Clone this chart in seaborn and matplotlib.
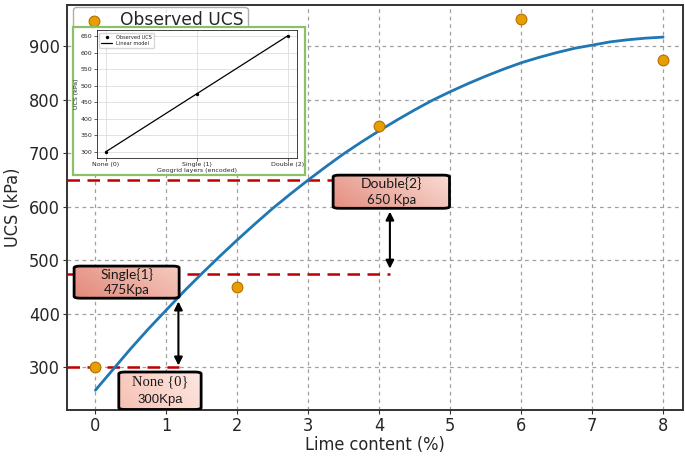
import numpy as np
import pandas as pd
import matplotlib
matplotlib.use("Agg")
import matplotlib.pyplot as plt
import seaborn as sns
from matplotlib.patches import FancyBboxPatch, Rectangle

# ---- data ----
lime = [0, 2, 4, 6, 8]
ucs_obs = [300, 450, 750, 950, 875]

curve_x = [0, 0.25, 0.5, 0.75, 1, 1.25, 1.5, 1.75, 2, 2.25, 2.5, 2.75, 3, 3.25, 3.5, 3.75,
           4, 4.25, 4.5, 4.75, 5, 5.25, 5.5, 5.75, 6, 6.25, 6.5, 6.75, 7, 7.25, 7.5, 7.75, 8]
curve_y = [257, 296, 335, 372, 407, 442, 475, 507, 538, 568, 597, 624, 650, 675, 699, 721,
           742, 762, 781, 799, 815, 830, 844, 857, 869, 879, 888, 896, 902, 908, 912, 915, 917]

geo_labels = ["None (0)", "Single (1)", "Double (2)"]
geo_code = [0, 1, 2]
geo_ucs = [300, 475, 650]

box_titles = ["None {0}", "Single{1}", "Double{2}"]
box_values = ["300Kpa", "475Kpa", "650 Kpa"]

sns.set_theme(style="ticks")
plt.rcParams['font.family'] = ['DejaVu Sans']

fig = plt.figure(figsize=(6.85, 4.57), dpi=100)
ax = fig.add_axes([67/685, 1-410/457, 616/685, 405/457])

df_obs = pd.DataFrame({"lime": lime, "ucs": ucs_obs})
df_fit = pd.DataFrame({"lime": curve_x, "ucs": curve_y})

sns.lineplot(data=df_fit, x="lime", y="ucs", ax=ax, color="#1f77b4", lw=2, zorder=4)
sns.scatterplot(data=df_obs, x="lime", y="ucs", ax=ax, color="#E69F00", edgecolor="#b86e00",
                s=60, linewidth=0.8, zorder=5, label="Observed UCS")

ax.set_xlim(-0.4, 8.28)
ax.set_ylim(220, 977)
ax.set_xticks(range(0, 9))
ax.set_yticks(range(300, 1000, 100))
ax.grid(True, color="#a0a0a0", linestyle=(0, (3, 3)), linewidth=0.9)
for s in ax.spines.values():
    s.set_color("#333333")
    s.set_linewidth(1.4)
ax.tick_params(length=3, width=0.8, color="#333333", direction="out", pad=2, labelsize=13)
for lab in ax.get_xticklabels() + ax.get_yticklabels():
    lab.set_fontstretch("condensed")
ax.set_xlabel("Lime content (%)", fontsize=13, fontstretch="condensed", labelpad=1)
ax.set_ylabel("UCS (kPa)", fontsize=13, fontstretch="condensed", labelpad=5)

leg = ax.legend(loc="upper left", bbox_to_anchor=(0.006, 1.0), borderaxespad=0.12,
                prop={"size": 12.3},
                frameon=True, fancybox=True, handletextpad=0.5, borderpad=0.25)
leg.get_frame().set_edgecolor("#999999")

# red dashed reference lines
xl = -0.4
red = "#c00000"
ax.plot([xl, 3.35], [650, 650], color=red, lw=1.8, ls=(0, (5, 3)), zorder=3)
ax.plot([xl, 4.15], [475, 475], color=red, lw=1.8, ls=(0, (5, 3)), zorder=3)
ax.plot([xl, 1.18], [300, 300], color=red, lw=1.8, ls=(0, (5, 3)), zorder=3)

# arrows
ax.annotate("", xy=(4.15, 479), xytext=(4.15, 596),
            arrowprops=dict(arrowstyle="<|-|>", color="black", lw=1.5, mutation_scale=12), zorder=6)
ax.annotate("", xy=(1.17, 298), xytext=(1.17, 428),
            arrowprops=dict(arrowstyle="<|-|>", color="black", lw=1.5, mutation_scale=12), zorder=6)


def grad_box(x0, y0, x1, y1, c0, c1, title, value, tfam, vfam, tfs, vfs):
    patch = FancyBboxPatch((x0, y0), x1 - x0, y1 - y0,
                           boxstyle="round,pad=0,rounding_size=0.09",
                           mutation_aspect=38, facecolor="none",
                           edgecolor="black", lw=2.0, zorder=8)
    ax.add_patch(patch)
    ca = np.array(matplotlib.colors.to_rgb(c0))
    cb = np.array(matplotlib.colors.to_rgb(c1))
    gx = np.linspace(0, 1, 64)
    gy = np.linspace(0, 1, 32)
    tt = (gx[None, :] * 0.7 + (1 - gy[:, None]) * 0.3)
    img = ca[None, None, :] * (1 - tt[..., None]) + cb[None, None, :] * tt[..., None]
    im = ax.imshow(img, extent=(x0, x1, y0, y1), origin="upper", aspect="auto", zorder=7)
    im.set_clip_path(patch)
    ym = (y0 + y1) / 2
    ax.text((x0 + x1) / 2, ym + (y1 - y0) * 0.24, title, ha="center", va="center",
            fontsize=tfs, family=tfam, color="#1a1a1a", zorder=9)
    ax.text((x0 + x1) / 2, ym - (y1 - y0) * 0.24, value, ha="center", va="center",
            fontsize=vfs, family=vfam, color="#1a1a1a", zorder=9)


grad_box(3.35, 597, 4.99, 659, "#e58e80", "#f8dcd4", box_titles[2], box_values[2],
         "Lato", "Lato", 10, 9.5)
grad_box(-0.30, 429, 1.18, 489, "#e3897b", "#f6cbc0", box_titles[1], box_values[1],
         "Lato", "Lato", 10, 9.5)
grad_box(0.33, 221, 1.49, 291, "#f7c0b3", "#fde9e3", box_titles[0], box_values[0],
         "Liberation Serif", "Liberation Sans", 10.5, 9.5)
ax.set_xlim(-0.4, 8.28)
ax.set_ylim(220, 977)

# inset frame (green border)
fig.patches.append(Rectangle((73/685, 1-175/457), 232/685, 148/457, transform=fig.transFigure,
                             facecolor="white", edgecolor="#8cc068", lw=1.6, zorder=2))

ins = fig.add_axes([0.141, 0.655, 0.292, 0.279], zorder=3)
df_geo = pd.DataFrame({"code": geo_code, "ucs": geo_ucs})
sns.lineplot(data=df_geo, x="code", y="ucs", ax=ins, color="black", lw=0.9, label="Linear model")
sns.scatterplot(data=df_geo, x="code", y="ucs", ax=ins, color="black", s=6, edgecolor="black",
                linewidth=0, label="Observed UCS", zorder=5)
h, l = ins.get_legend_handles_labels()
ins.legend([h[1], h[0]], [l[1], l[0]], loc="upper left", fontsize=3.6, frameon=True,
           borderpad=0.4, handlelength=2.2, labelspacing=0.3, markerscale=1)
ins.set_xticks(geo_code)
ins.set_xticklabels(geo_labels)
ins.set_yticks(range(300, 700, 50))
ins.grid(True, color="#dddddd", lw=0.6)
ins.tick_params(labelsize=4.5, length=2, width=0.5, pad=1)
ins.set_xlabel("Geogrid layers (encoded)", fontsize=4.5, labelpad=1)
ins.set_ylabel("UCS (kPa)", fontsize=4.5, labelpad=1)
for s in ins.spines.values():
    s.set_linewidth(0.6)
    s.set_color("#222222")

fig.savefig("out.png", dpi=100)
